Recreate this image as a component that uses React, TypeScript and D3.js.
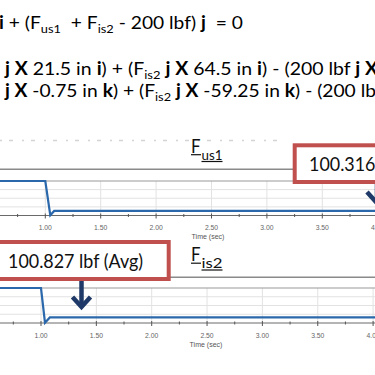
import React from "react";
import * as d3 from "d3";

// ---- data ----
const timeUs1 = [0, 1.0, 1.045, 1.08, 4.5];
const forceUs1 = [200, 200, 86, 100.316, 100.316];
const timeIs2 = [0, 1.0, 1.036, 1.08, 4.5];
const forceIs2 = [200, 200, 83, 100.827, 100.827];
const majorTicks = [0.5, 1.0, 1.5, 2.0, 2.5, 3.0, 3.5, 4.0, 4.5];
const minorTicks = [0.25, 0.75, 1.25, 1.75, 2.25, 2.75, 3.25, 3.75, 4.25];
const tickLabels = ["0.50", "1.00", "1.50", "2.00", "2.50", "3.00", "3.50", "4.00", "4.50"];
const avgLabels = ["100.316 lbf (Avg)", "100.827 lbf (Avg)"];
const titleSubs = ["us1", "is2"];
const axisTitle = "Time (sec)";

type Seg = { t: string; b?: boolean; sub?: boolean };
const eqLine1: Seg[] = [
  { t: "i", b: true }, { t: " + (F" }, { t: "us1", sub: true }, { t: "  + F" },
  { t: "is2", sub: true }, { t: " - 200 lbf) " }, { t: "j", b: true }, { t: "  = 0" },
];
const eqLine2: Seg[] = [
  { t: "j X", b: true }, { t: " 21.5 in " }, { t: "i", b: true }, { t: ") + (F" },
  { t: "is2", sub: true }, { t: " " }, { t: "j X", b: true }, { t: " 64.5 in " },
  { t: "i", b: true }, { t: ") - (200 lbf " }, { t: "j X", b: true },
];
const eqLine3: Seg[] = [
  { t: "j X", b: true }, { t: " -0.75 in " }, { t: "k", b: true }, { t: ") + (F" },
  { t: "is2", sub: true }, { t: " " }, { t: "j X", b: true }, { t: " -59.25 in " },
  { t: "k", b: true }, { t: ") - (200 lb" },
];

const RED = "#c0504d";
const BLUE = "#2a68ab";
const NAVY = "#1f3a68";
const FONT = "Lato, 'Open Sans', sans-serif";

function EqLine({ segs, x, y, len }: { segs: Seg[]; x: number; y: number; len: number }) {
  let shift = 0;
  return (
    <text x={x} y={y} fontFamily={FONT} fontSize={18} fill="#000" textLength={len}
      lengthAdjust="spacingAndGlyphs" style={{ whiteSpace: "pre" }}>
      {segs.map((s, i) => {
        const target = s.sub ? 4 : 0;
        const dy = target - shift;
        shift = target;
        return (
          <tspan key={i} dy={dy} fontWeight={s.b ? "bold" : "normal"} fontSize={s.sub ? 12 : 18}>
            {s.t}
          </tspan>
        );
      })}
    </text>
  );
}

type Cfg = {
  x0: number; pps: number; top: number; bottom: number; header: number;
  headerX0: number; yDomain: [number, number]; labelY: number; titleY: number; titleX: number;
};

function Chart({ times, values, cfg }: { times: number[]; values: number[]; cfg: Cfg }) {
  const x = d3.scaleLinear().domain([0, 4.5]).range([cfg.x0 - cfg.pps, cfg.x0 + 3.5 * cfg.pps]);
  const y = d3.scaleLinear().domain(cfg.yDomain).range([cfg.bottom, cfg.top]);
  const line = d3.line<number>().x((_, i) => x(times[i])).y((d) => y(d));
  const [lo, hi] = cfg.yDomain;
  const gridVals = [1, 2, 3].map((k) => lo + ((hi - lo) * k) / 4);
  return (
    <g>
      <line x1={cfg.headerX0} x2={375} y1={cfg.header} y2={cfg.header} stroke="#8a8a8a" strokeWidth={1.4} />
      {gridVals.map((v, i) => (
        <line key={"h" + i} x1={0} x2={375} y1={y(v)} y2={y(v)} stroke="#e2e2e2" strokeWidth={1} />
      ))}
      {majorTicks.map((t, i) => (
        <line key={"v" + i} x1={x(t)} x2={x(t)} y1={cfg.top} y2={cfg.bottom} stroke="#e2e2e2" strokeWidth={1} />
      ))}
      <line x1={0} x2={375} y1={cfg.top} y2={cfg.top} stroke="#9a9a9a" strokeWidth={1.2} />
      <line x1={0} x2={375} y1={cfg.bottom} y2={cfg.bottom} stroke="#6a6a6a" strokeWidth={1.2} />
      {majorTicks.map((t, i) => (
        <line key={"mt" + i} x1={x(t)} x2={x(t)} y1={cfg.bottom - 2} y2={cfg.bottom + 3} stroke="#555" strokeWidth={1} />
      ))}
      {minorTicks.map((t, i) => (
        <line key={"nt" + i} x1={x(t)} x2={x(t)} y1={cfg.bottom - 1.5} y2={cfg.bottom + 1.5} stroke="#555" strokeWidth={1} />
      ))}
      <path d={line(values) || ""} fill="none" stroke={BLUE} strokeWidth={2.2} />
      {majorTicks.map((t, i) =>
        x(t) > 0 && x(t) < 385 ? (
          <text key={"tl" + i} x={x(t)} y={cfg.labelY} textAnchor="middle" fontFamily="'Liberation Sans', Arial, sans-serif"
            fontSize={6.8} fill="#666">{tickLabels[i]}</text>
        ) : null
      )}
      <text x={cfg.titleX} y={cfg.titleY} textAnchor="middle" fontFamily="'Liberation Sans', Arial, sans-serif"
        fontSize={7} fill="#555">{axisTitle}</text>
    </g>
  );
}

function Title({ x, y, sub }: { x: number; y: number; sub: string }) {
  return (
    <g fontFamily={FONT} fill="#111">
      <text x={x} y={y} fontSize={19} textLength={9.5} lengthAdjust="spacingAndGlyphs">F</text>
      <text x={x + 10.5} y={y + 7} fontSize={13} textLength={21} lengthAdjust="spacingAndGlyphs">{sub}</text>
      <line x1={x} x2={x + 10} y1={y + 2.2} y2={y + 2.2} stroke="#111" strokeWidth={1.2} />
      <line x1={x + 10.5} x2={x + 31.5} y1={y + 9} y2={y + 9} stroke="#111" strokeWidth={1.2} />
    </g>
  );
}

function Arrow({ cx, y0, tip, half, headH }: { cx: number; y0: number; tip: number; half: number; headH: number }) {
  return (
    <g fill="none" stroke={NAVY} strokeWidth={4.5} strokeLinejoin="miter">
      <line x1={cx} x2={cx} y1={y0} y2={tip - 3} />
      <polyline points={`${cx - half},${tip - headH} ${cx},${tip - 2} ${cx + half},${tip - headH}`} />
    </g>
  );
}

export default function App() {
  const cfg1: Cfg = {
    x0: 45.3, pps: 110.8, top: 181, bottom: 215.5, header: 169.3, headerX0: 0,
    yDomain: [85, 200], labelY: 229.5, titleY: 238.5, titleX: 208,
  };
  const cfg2: Cfg = {
    x0: 41, pps: 110.7, top: 288, bottom: 323, header: 277.3, headerX0: 160,
    yDomain: [82, 200], labelY: 338, titleY: 346.5, titleX: 206,
  };
  return (
    <svg width={375} height={375} style={{ position: "absolute", left: 0, top: 0, background: "#fff" }}>
      <rect x={0} y={0} width={375} height={375} fill="#fff" />
      <EqLine segs={eqLine1} x={-1} y={29} len={244} />
      <EqLine segs={eqLine2} x={5} y={75} len={373} />
      <EqLine segs={eqLine3} x={5} y={96.5} len={371} />

      <line x1={0} x2={285} y1={140.5} y2={140.5} stroke="#d4d4d4" strokeWidth={1.5} strokeDasharray="2 7 4 9" />

      <Chart times={timeUs1} values={forceUs1} cfg={cfg1} />
      <Chart times={timeIs2} values={forceIs2} cfg={cfg2} />

      <Title x={191} y={152.5} sub={titleSubs[0]} />
      <Title x={191} y={261} sub={titleSubs[1]} />

      <rect x={294.7} y={145.3} width={200} height={36.7} fill="#fff" stroke={RED} strokeWidth={4} />
      <text x={309} y={170.5} fontFamily={FONT} fontSize={19.5} fill="#111" textLength={135} lengthAdjust="spacingAndGlyphs">
        {avgLabels[0]}
      </text>
      <Arrow cx={377} y0={184} tip={205} half={10} headH={13} />

      <rect x={-10} y={242} width={178.7} height={37} fill="#fff" stroke={RED} strokeWidth={4} />
      <text x={8} y={268} fontFamily={FONT} fontSize={19.5} fill="#111" textLength={135} lengthAdjust="spacingAndGlyphs">
        {avgLabels[1]}
      </text>
      <Arrow cx={81.5} y0={281} tip={309} half={9} headH={12} />
    </svg>
  );
}
